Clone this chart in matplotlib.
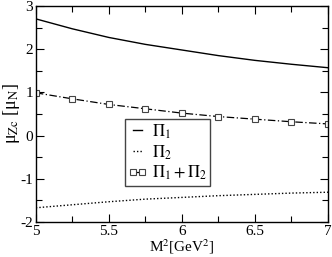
import matplotlib
matplotlib.use('Agg')
import matplotlib.pyplot as plt
from matplotlib.ticker import MultipleLocator

plt.rcParams['font.family'] = ['Liberation Serif', 'DejaVu Serif']
plt.rcParams['mathtext.fontset'] = 'stix'

# M^2 values [GeV^2]
m2 = [5.0, 5.25, 5.5, 5.75, 6.0, 6.25, 6.5, 6.75, 7.0]
# Pi_1 contribution
pi1 = [2.70, 2.47, 2.27, 2.11, 1.98, 1.85, 1.74, 1.65, 1.57]
# Pi_2 contribution
pi2 = [-1.67, -1.60, -1.53, -1.47, -1.43, -1.39, -1.36, -1.33, -1.31]
# Pi_1 + Pi_2
pisum = [0.99, 0.85, 0.72, 0.62, 0.52, 0.44, 0.38, 0.32, 0.27]

fig = plt.figure(figsize=(3.32, 2.57), dpi=100)
ax = fig.add_axes([0.108, 0.136, 0.88, 0.841])

ax.plot(m2, pi1, color='black', lw=1.0, label=r'$\Pi_1$')
ax.plot(m2, pi2, color='black', lw=1.0, ls=(0, (1, 1.5)), label=r'$\Pi_2$')
ax.plot(m2, pisum, color='black', lw=0.9, ls=(0, (6, 2, 1, 2)),
        marker='s', ms=5, mfc='white', mec='#444444', mew=0.8,
        label=r'$\Pi_1 + \Pi_2$')

ax.set_xlim(5, 7)
ax.set_ylim(-2, 3)
ax.xaxis.set_minor_locator(MultipleLocator(0.25))
ax.yaxis.set_minor_locator(MultipleLocator(0.5))
ax.set_xticks([5, 5.5, 6, 6.5, 7])
ax.set_xticklabels(['5', '5.5', '6', '6.5', '7'])
ax.set_yticks([-2, -1, 0, 1, 2, 3])
ax.set_yticklabels(['-2', '-1', '0', '1', '2', '3'])
ax.tick_params(which='both', direction='in', top=True, right=True, labelsize=11)
ax.tick_params(which='major', length=6, width=0.8, pad=2)
ax.tick_params(which='minor', length=4, width=0.8)
for s in ax.spines.values():
    s.set_linewidth(1.0)

ax.set_xlabel(r'M$^2$[GeV$^2$]', fontsize=11, labelpad=0)
ax.set_ylabel(r'μ$_{\mathrm{Zc}}$ [μ$_{\mathrm{N}}$]', fontsize=13, labelpad=-1)

leg = ax.legend(loc='upper left', bbox_to_anchor=(0.305, 0.477), fontsize=12,
                handlelength=1.1, handletextpad=0.3, borderpad=0.2,
                labelspacing=0.15, borderaxespad=0, fancybox=False,
                numpoints=2, markerscale=0.8,
                framealpha=1, edgecolor='#444444')
leg.get_frame().set_linewidth(1.0)

fig.savefig('out.png', dpi=100)
